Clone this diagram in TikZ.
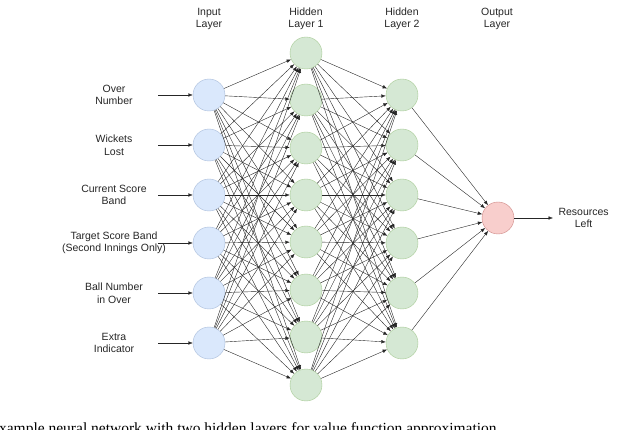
\documentclass[tikz,border=0pt]{standalone}
\usepackage{fontspec}
\setmainfont{Liberation Serif}
\newfontfamily\sans{Liberation Sans}
\usetikzlibrary{arrows.meta}
\definecolor{bfill}{HTML}{DAE8FC}\definecolor{bdraw}{HTML}{6C8EBF}
\definecolor{gfill}{HTML}{D5E8D4}\definecolor{gdraw}{HTML}{82B366}
\definecolor{rfill}{HTML}{F8CECC}\definecolor{rdraw}{HTML}{B85450}
\begin{document}
\begin{tikzpicture}[x=1pt,y=-1pt,
  neu/.style={circle,minimum size=32pt,inner sep=0pt,line width=0.4pt},
  inp/.style={neu,fill=bfill,draw=bdraw!60},
  hid/.style={neu,fill=gfill,draw=gdraw!70},
  outn/.style={neu,fill=rfill,draw=rdraw!70},
  con/.style={line width=0.4pt,black!85,-{Latex[length=4.5pt,width=3.5pt]}},
  lab/.style={font=\sans\fontsize{10.5}{12.5}\selectfont,align=center,text=black!85}]
\useasboundingbox (0,0) rectangle (640,430);
\foreach \y [count=\i] in {95,145,195,243,293,343} \node[inp] (i\i) at (209,\y) {};
\foreach \y [count=\i] in {53,100,148,195,242,290,337,385} \node[hid] (a\i) at (306,\y) {};
\foreach \y [count=\i] in {95,145,195,243,293,343} \node[hid] (b\i) at (402,\y) {};
\node[outn] (o) at (498,218) {};
\foreach \i in {1,...,6} \foreach \j in {1,...,8} \draw[con] (i\i) -- (a\j);
\foreach \i in {1,...,8} \foreach \j in {1,...,6} \draw[con] (a\i) -- (b\j);
\foreach \i in {1,...,6} \draw[con] (b\i) -- (o);
\node[lab] at (209,19) {Input\\Layer};
\node[lab] at (306,19) {Hidden\\Layer 1};
\node[lab] at (402,19) {Hidden\\Layer 2};
\node[lab] at (497,19) {Output\\Layer};
\node[lab] (l1) at (114,95) {Over\\Number};
\node[lab] (l2) at (114,145) {Wickets\\Lost};
\node[lab] (l3) at (114,195) {Current Score\\Band};
\node[lab] (l4) at (114,243) {Target Score Band\\(Second Innings Only)};
\node[lab] (l5) at (114,293) {Ball Number\\in Over};
\node[lab] (l6) at (114,343) {Extra\\Indicator};
\foreach \y [count=\i] in {95,145,195,243,293,343} {
  \coordinate (s\i) at (158,\y);
  \draw[con] (s\i) -- (i\i);
}
\coordinate (e) at (553,218);
\draw[con] (o) -- (e);
\node[lab,anchor=west] at (555,218) {Resources\\Left};
\node[anchor=base west,font=\fontsize{15.5}{17}\selectfont,inner sep=0pt] at (-8,433) {example neural network with two hidden layers for value function approximation};
\end{tikzpicture}
\end{document}
